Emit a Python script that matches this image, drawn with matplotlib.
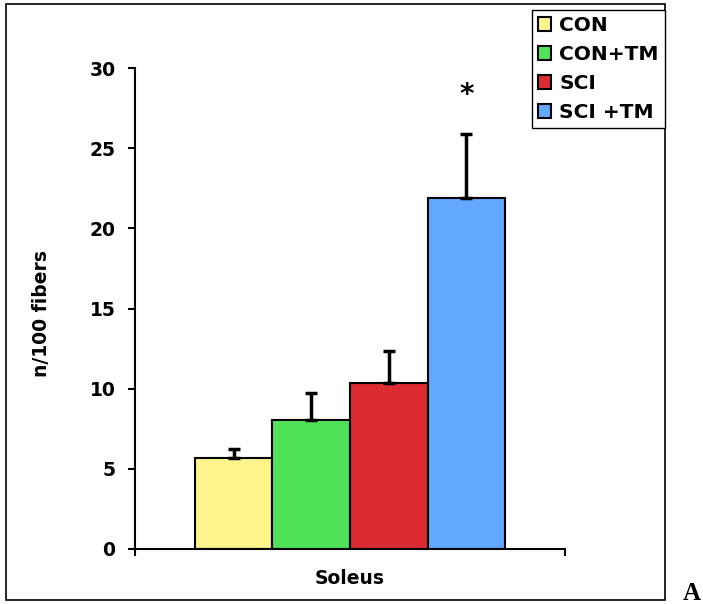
import matplotlib
matplotlib.use('Agg')
import matplotlib.pyplot as plt
from matplotlib.patches import Rectangle

groups = ['CON', 'CON+TM', 'SCI', 'SCI +TM']
means = [5.7, 8.05, 10.35, 21.9]
errs = [0.55, 1.65, 2.0, 4.0]
colors = ['#FFF48C', '#50E35A', '#DC2B33', '#62A8FD']

plt.rcParams['font.family'] = 'DejaVu Sans'
plt.rcParams['font.weight'] = 'bold'

fig = plt.figure(figsize=(7.03, 6.04), dpi=100)
ax = fig.add_axes([135/703, 1-549/604, 430/703, 481/604])

x = list(range(len(groups)))
for i in x:
    ax.bar(i, means[i], width=1.0, color=colors[i], edgecolor='black',
           linewidth=1.5, label=groups[i], zorder=2)
ax.errorbar(x, means, yerr=[[0]*4, errs], fmt='none', ecolor='black',
            elinewidth=2.5, capsize=4.5, capthick=2.5, zorder=3)
ax.text(3, 28.3, '*', ha='center', va='center', fontsize=20, fontweight='bold')

ax.set_xlim(-1.27, 4.27)
ax.set_ylim(0, 30)
ax.set_yticks([0, 5, 10, 15, 20, 25, 30])
ax.set_xticks([-1.27, 4.27])
ax.set_xticklabels(['', ''])
ax.tick_params(axis='both', direction='out', length=5, width=1.5, labelsize=13.5)
ax.tick_params(axis='y', pad=9)
for lbl in ax.get_yticklabels():
    lbl.set_fontweight('bold')
ax.spines['top'].set_visible(False)
ax.spines['right'].set_visible(False)
ax.spines['left'].set_linewidth(1.5)
ax.spines['bottom'].set_linewidth(1.5)

ax.set_ylabel('n/100 fibers', fontsize=13.5, fontweight='bold')
ax.yaxis.set_label_coords(-0.196, 0.49)
ax.set_xlabel('Soleus', fontsize=13.5, fontweight='bold')
ax.xaxis.set_label_coords(0.5, -0.042)

fig.legend(loc='upper right', bbox_to_anchor=(665/703, 1-10/604),
           fancybox=False, edgecolor='black', framealpha=1, fontsize=14.5,
           handlelength=0.65, handleheight=0.65, handletextpad=0.4,
           labelspacing=0.5, borderpad=0.3, borderaxespad=0)

fig.patches.append(Rectangle((6/703, 1-600/604), 659/703, 596/604,
                             transform=fig.transFigure, fill=False,
                             edgecolor='black', linewidth=1.2))
fig.text(701/703, 1-594/604, 'A', ha='right', va='center', fontsize=18,
         fontweight='bold', family='Liberation Serif')

fig.savefig('out.png', dpi=100)
